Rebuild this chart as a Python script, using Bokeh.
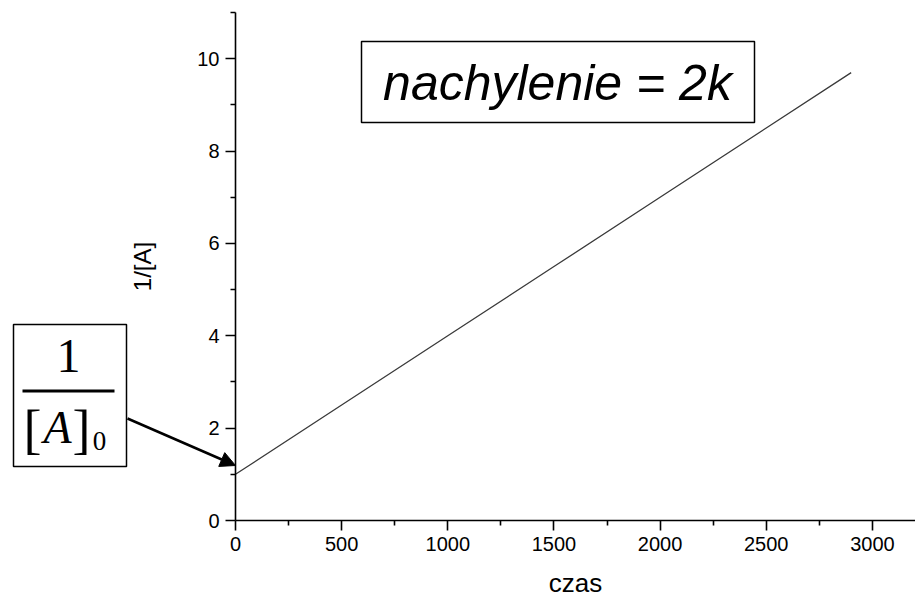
from bokeh.plotting import figure
from bokeh.models import Range1d, FixedTicker, Label, BoxAnnotation, Arrow, NormalHead
from bokeh.embed import file_html
from bokeh.resources import INLINE

# ---- data ----
czas = [0, 500, 1000, 1500, 2000, 2500, 2900]
odwrotnosc_A = [1.0, 2.5, 4.0, 5.5, 7.0, 8.5, 9.7]
x_major = [0, 500, 1000, 1500, 2000, 2500, 3000]
x_minor = [250, 750, 1250, 1750, 2250, 2750]
y_major = [0, 2, 4, 6, 8, 10]
y_minor = [1, 3, 5, 7, 9, 11]
x_label = "czas"
y_label = "1/[A]"
slope_text = "nachylenie = 2k"

# ---- geometry (pixels) ----
W, H = 915, 600
OX, OY = 235, 520          # pixel position of the data origin
SX, SY = 0.2123, 46.17     # pixels per data unit
Y_TOP = 11

def dx(px):
    return (px - OX) / SX

def dy(py):
    return (OY - py) / SY

p = figure(width=W, height=H, output_backend="svg", toolbar_location=None,
           title=None,
           x_range=Range1d(dx(0), dx(W)), y_range=Range1d(dy(H), dy(0)),
           min_border=0, min_border_left=0, min_border_right=0,
           min_border_top=0, min_border_bottom=0)
p.outline_line_color = None
p.grid.visible = False
p.background_fill_color = "white"
p.border_fill_color = "white"

p.line(czas, odwrotnosc_A, line_color="#3a3a3a", line_width=1.3)

xa, ya = p.xaxis[0], p.yaxis[0]
xa.fixed_location = 0
ya.fixed_location = 0
xa.bounds = (0, dx(W))
ya.bounds = (0, Y_TOP)

for ax, maj, mn in ((xa, x_major, x_minor), (ya, y_major, y_minor)):
    ax.ticker = FixedTicker(ticks=maj, minor_ticks=mn)
    ax.axis_line_color = "black"
    ax.axis_line_width = 1.6
    ax.major_tick_line_color = "black"
    ax.major_tick_line_width = 1.6
    ax.minor_tick_line_color = "black"
    ax.minor_tick_line_width = 1.6
    ax.major_tick_in = 0
    ax.major_tick_out = 10
    ax.minor_tick_in = 0
    ax.minor_tick_out = 5
    ax.major_label_text_font = "Liberation Sans"
    ax.major_label_text_color = "black"
    ax.major_label_text_font_size = "20px"
    ax.major_label_standoff = 6
    ax.axis_label_text_font = "Liberation Sans"
    ax.axis_label_text_font_style = "normal"
    ax.axis_label_text_color = "black"

xa.axis_label = x_label
ya.axis_label = y_label
xa.axis_label_text_font_size = "26px"
ya.axis_label_text_font_size = "24px"
xa.axis_label_standoff = 14
ya.axis_label_standoff = 38

# ---- slope box ----
p.add_layout(BoxAnnotation(left=dx(361), right=dx(754), top=dy(41), bottom=dy(122),
                           fill_color=None, line_color="black", line_alpha=1,
                           line_width=1.5))
p.add_layout(Label(x=dx(557), y=dy(82), text=slope_text, text_align="center",
                   text_baseline="middle", text_font="Liberation Sans",
                   text_font_style="italic", text_font_size="50px", text_color="black"))

# ---- 1/[A]0 box ----
p.add_layout(BoxAnnotation(left=dx(13), right=dx(126), top=dy(324), bottom=dy(466),
                           fill_color=None, line_color="black", line_alpha=1,
                           line_width=1.5))
p.add_layout(BoxAnnotation(left=dx(22), right=dx(114), top=dy(389), bottom=dy(392),
                           fill_color="black", fill_alpha=1, line_color=None))
serif = "Liberation Serif"
p.add_layout(Label(x=dx(68), y=dy(355), text="1", text_align="center",
                   text_baseline="alphabetic", text_font=serif,
                   text_font_size="48px", text_color="black"))
p.add_layout(Label(x=dx(32), y=dy(429), text="[", text_align="center",
                   text_baseline="alphabetic", text_font=serif,
                   text_font_size="54px", text_color="black"))
p.add_layout(Label(x=dx(57), y=dy(427), text="A", text_align="center",
                   text_baseline="alphabetic", text_font=serif, text_font_style="italic",
                   text_font_size="46px", text_color="black"))
p.add_layout(Label(x=dx(81), y=dy(429), text="]", text_align="center",
                   text_baseline="alphabetic", text_font=serif,
                   text_font_size="54px", text_color="black"))
p.add_layout(Label(x=dx(99), y=dy(440), text="0", text_align="center",
                   text_baseline="alphabetic", text_font=serif,
                   text_font_size="27px", text_color="black"))

p.add_layout(Arrow(x_start=dx(127), y_start=dy(418), x_end=dx(235), y_end=dy(465),
                   line_color="black", line_width=2.5,
                   end=NormalHead(size=15, fill_color="black", line_color="black")))

open("out.html", "w").write(file_html(p, INLINE))
